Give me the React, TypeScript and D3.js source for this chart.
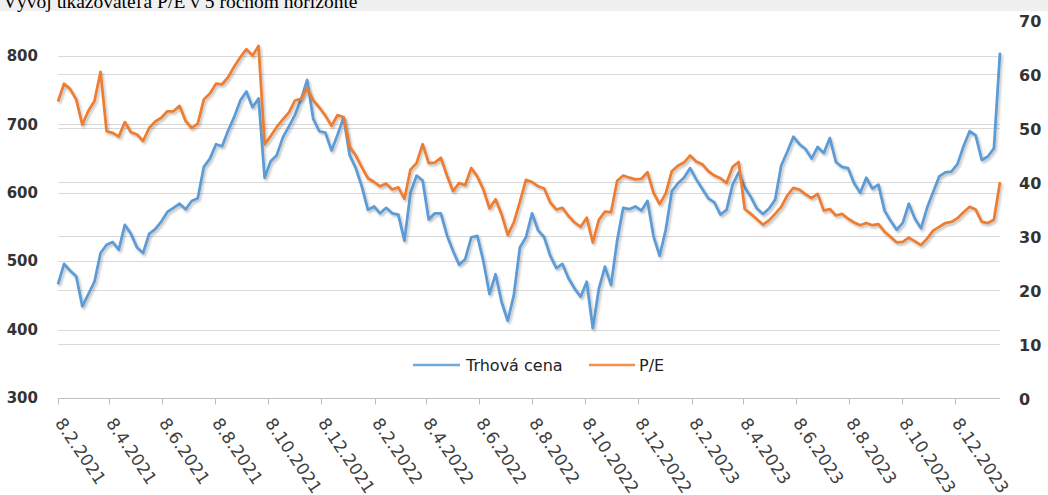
import React, { useEffect, useRef } from 'react';
import * as d3 from 'd3';

const width = 1048;
const height = 495;
const plot = { left: 58, right: 1000, bottom: 398 };

const title = 'Vývoj ukazovateľa P/E v 5 ročnom horizonte';
const seriesNames = ['Trhová cena', 'P/E'];
const seriesColors = ['#5b9bd5', '#ed7d31'];

// weekly closes starting on this day
const firstWeek = '2021-02-08';
const weekCount = 156;

const priceTicks = [300, 400, 500, 600, 700, 800];
const peTicks = [0, 10, 20, 30, 40, 50, 60, 70];
const dateTicks = [
  '2021-02-08', '2021-04-08', '2021-06-08', '2021-08-08', '2021-10-08', '2021-12-08',
  '2022-02-08', '2022-04-08', '2022-06-08', '2022-08-08', '2022-10-08', '2022-12-08',
  '2023-02-08', '2023-04-08', '2023-06-08', '2023-08-08', '2023-10-08', '2023-12-08',
];

const price = [
  466, 496, 486, 478, 434, 452, 470, 512, 524, 528,
  517, 553, 540, 520, 512, 540, 547, 558, 572, 578,
  584, 576, 588, 592, 638, 650, 671, 668, 691, 711,
  735, 748, 725, 738, 622, 646, 655, 681, 697, 714,
  737, 765, 708, 690, 688, 662, 685, 710, 655, 636,
  609, 575, 580, 570, 578, 570, 568, 530, 600, 625,
  618, 561, 570, 570, 538, 515, 495, 503, 535, 537,
  500, 452, 481, 440, 413, 450, 520, 535, 570, 545,
  535, 508, 490, 496, 475, 460, 448, 470, 402, 460,
  492, 465, 530, 578, 576, 580, 574, 588, 536, 508,
  546, 602, 614, 622, 636, 620, 606, 592, 586, 568,
  575, 612, 630, 608, 594, 577, 569, 577, 590, 640,
  660, 682, 671, 664, 650, 667, 658, 680, 645, 638,
  636, 614, 600, 622, 606, 612, 574, 559, 546, 556,
  584, 562, 548, 578, 601, 624, 630, 631, 642, 668,
  690, 684, 648, 653, 665, 805,
];

const pe = [
  54.9, 58.2, 57.2, 55.3, 50.6, 53.2, 55.0, 60.4, 49.4, 49.1,
  48.4, 51.1, 49.2, 48.8, 47.6, 50.0, 51.2, 51.9, 53.1, 53.1,
  54.1, 51.3, 50.0, 50.8, 55.3, 56.4, 58.2, 58.1, 59.4, 61.4,
  63.1, 64.6, 63.4, 65.2, 47.0, 48.5, 50.2, 51.6, 52.9, 55.1,
  55.4, 57.4, 55.1, 53.8, 52.3, 50.4, 52.4, 52.0, 46.5, 44.9,
  42.7, 40.7, 40.0, 39.2, 39.7, 38.6, 39.0, 36.9, 42.3, 43.5,
  47.0, 43.5, 43.6, 44.5, 41.2, 38.3, 39.8, 39.4, 42.6, 41.0,
  38.6, 35.1, 36.8, 34.0, 30.2, 32.5, 36.3, 40.4, 40.0, 39.2,
  38.8, 36.2, 34.9, 35.2, 33.7, 32.5, 31.7, 33.4, 28.8, 33.0,
  34.5, 34.4, 40.2, 41.2, 40.8, 40.5, 40.6, 41.8, 38.0, 35.9,
  37.9, 42.0, 43.0, 43.6, 44.9, 43.8, 43.3, 42.0, 41.2, 40.7,
  39.8, 42.8, 43.7, 35.0, 34.1, 33.1, 32.1, 32.9, 34.1, 35.4,
  37.5, 38.9, 38.6, 37.7, 37.0, 37.8, 34.7, 35.0, 33.8, 34.1,
  33.2, 32.5, 32.0, 32.4, 32.0, 32.2, 30.8, 29.8, 28.8, 28.9,
  29.7, 29.0, 28.3, 29.5, 31.0, 31.7, 32.4, 32.6, 33.3, 34.4,
  35.4, 34.9, 32.6, 32.4, 33.0, 40.0,
];

const parse = d3.utcParse('%Y-%m-%d');
const fmt = d3.utcFormat('%-d.%-m.%Y');

export default function App() {
  const ref = useRef<SVGSVGElement>(null);

  useEffect(() => {
    if (!ref.current) return;
    const svg = d3.select(ref.current);
    svg.selectAll('*').remove();

    const start = parse(firstWeek) as Date;
    const dates = d3.range(weekCount).map((i) => d3.utcDay.offset(start, i * 7));

    const x = d3
      .scaleUtc()
      .domain([dates[0], dates[dates.length - 1]])
      .range([plot.left, plot.right]);
    const yPrice = d3.scaleLinear().domain([300, 800]).range([plot.bottom, 56]);
    const yPe = d3.scaleLinear().domain([0, 70]).range([plot.bottom, 20]);

    const defs = svg.append('defs');
    defs
      .append('filter')
      .attr('id', 'shadow')
      .attr('x', '-5%')
      .attr('y', '-5%')
      .attr('width', '110%')
      .attr('height', '120%')
      .append('feDropShadow')
      .attr('dx', 1.5)
      .attr('dy', 2)
      .attr('stdDeviation', 1.3)
      .attr('flood-color', '#000')
      .attr('flood-opacity', 0.25);

    // title strip, mostly cut off at the top
    svg.append('rect').attr('width', width).attr('height', 11).attr('fill', '#f0f0f0');
    svg
      .append('text')
      .attr('x', 3)
      .attr('y', 8)
      .style('font-family', '"Liberation Serif", serif')
      .style('font-size', '19.5px')
      .attr('fill', '#000')
      .text(title);

    const grid = svg.append('g').attr('stroke', '#d9d9d9').attr('stroke-width', 1);
    priceTicks
      .filter((v) => v > 300)
      .forEach((v) => {
        const y = Math.round(yPrice(v)) + 0.5;
        grid.append('line').attr('x1', plot.left).attr('x2', plot.right).attr('y1', y).attr('y2', y);
      });
    peTicks
      .filter((v) => v > 0 && v < 70)
      .forEach((v) => {
        const y = Math.round(yPe(v)) + 0.5;
        grid.append('line').attr('x1', plot.left).attr('x2', plot.right).attr('y1', y).attr('y2', y);
      });

    // x axis line + ticks
    const axisY = plot.bottom + 0.5;
    svg
      .append('line')
      .attr('x1', plot.left)
      .attr('x2', plot.right)
      .attr('y1', axisY)
      .attr('y2', axisY)
      .attr('stroke', '#bfbfbf');
    dateTicks.forEach((d) => {
      const tx = Math.round(x(parse(d) as Date)) + 0.5;
      svg
        .append('line')
        .attr('x1', tx)
        .attr('x2', tx)
        .attr('y1', axisY)
        .attr('y2', axisY + 6)
        .attr('stroke', '#bfbfbf');
      svg
        .append('text')
        .attr('transform', `translate(${tx - 4}, 423) rotate(56)`)
        .style('font-family', '"DejaVu Sans", sans-serif')
        .style('font-size', '17px')
        .attr('fill', '#404040')
        .text(fmt(parse(d) as Date));
    });

    // y labels
    svg
      .append('g')
      .selectAll('text')
      .data(priceTicks)
      .join('text')
      .attr('x', 38)
      .attr('y', (d) => yPrice(d))
      .attr('dy', '0.35em')
      .attr('text-anchor', 'end')
      .style('font-family', '"DejaVu Sans", sans-serif')
      .style('font-size', '15px')
      .style('font-weight', 'bold')
      .attr('fill', '#333')
      .text((d) => d);
    svg
      .append('g')
      .selectAll('text')
      .data(peTicks)
      .join('text')
      .attr('x', 1019)
      .attr('y', (d) => yPe(d) + 1)
      .attr('dy', '0.35em')
      .style('font-family', '"DejaVu Sans", sans-serif')
      .style('font-size', '16px')
      .style('font-weight', 'bold')
      .attr('fill', '#333')
      .text((d) => d);

    const linePrice = d3
      .line<number>()
      .x((_, i) => x(dates[i]))
      .y((d) => yPrice(d));
    const linePe = d3
      .line<number>()
      .x((_, i) => x(dates[i]))
      .y((d) => yPe(d));

    svg
      .append('path')
      .datum(price)
      .attr('d', linePrice)
      .attr('fill', 'none')
      .attr('stroke', seriesColors[0])
      .attr('stroke-width', 2.75)
      .attr('stroke-linejoin', 'round')
      .attr('filter', 'url(#shadow)');
    svg
      .append('path')
      .datum(pe)
      .attr('d', linePe)
      .attr('fill', 'none')
      .attr('stroke', seriesColors[1])
      .attr('stroke-width', 2.75)
      .attr('stroke-linejoin', 'round')
      .attr('filter', 'url(#shadow)');

    // legend
    const legend = [
      { x1: 413, x2: 460, tx: 466 },
      { x1: 589, x2: 635, tx: 639 },
    ];
    legend.forEach((l, i) => {
      svg
        .append('line')
        .attr('x1', l.x1)
        .attr('x2', l.x2)
        .attr('y1', 365)
        .attr('y2', 365)
        .attr('stroke', seriesColors[i])
        .attr('stroke-width', 2.5)
        .attr('opacity', 0.85);
      svg
        .append('text')
        .attr('x', l.tx)
        .attr('y', 365)
        .attr('dy', '0.35em')
        .style('font-family', '"DejaVu Sans", sans-serif')
        .style('font-size', '16px')
        .attr('fill', '#222')
        .text(seriesNames[i]);
    });
  }, []);

  return (
    <div style={{ position: 'absolute', left: 0, top: 0, background: '#fff' }}>
      <svg ref={ref} width={width} height={height} style={{ display: 'block' }} />
    </div>
  );
}
